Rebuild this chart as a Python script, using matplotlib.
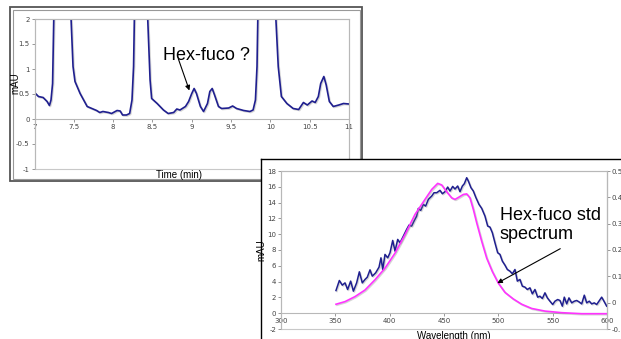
import matplotlib.pyplot as plt
import matplotlib.patheffects as pe
from matplotlib.patches import Rectangle

plt.rcParams['font.family'] = ['Liberation Sans', 'DejaVu Sans']
plt.rcParams['axes.unicode_minus'] = False

# chromatogram, 7-11 min
time_min = [7.0, 7.05, 7.11, 7.16, 7.19, 7.21, 7.23, 7.245, 7.35, 7.465, 7.49, 7.515,
            7.58, 7.67, 7.79, 7.83, 7.87, 7.94, 7.98, 8.05, 8.09, 8.12, 8.17, 8.21,
            8.24, 8.26, 8.27, 8.35, 8.44, 8.47, 8.49, 8.56, 8.64, 8.70, 8.77, 8.81,
            8.85, 8.92, 8.96, 9.0, 9.03, 9.06, 9.11, 9.15, 9.2, 9.23, 9.26, 9.29,
            9.34, 9.38, 9.47, 9.52, 9.57, 9.66, 9.74, 9.78, 9.81, 9.83, 9.84, 9.95,
            10.07, 10.1, 10.14, 10.21, 10.29, 10.36, 10.42, 10.47, 10.53, 10.57,
            10.61, 10.64, 10.68, 10.71, 10.75, 10.8, 10.87, 10.93, 11.0]
mau_chrom = [0.53, 0.45, 0.43, 0.35, 0.27, 0.38, 0.71, 2.0, 12.0, 2.0, 1.05, 0.75,
             0.51, 0.25, 0.17, 0.13, 0.15, 0.13, 0.11, 0.17, 0.16, 0.08, 0.08, 0.11,
             0.38, 1.05, 2.0, 9.0, 2.0, 0.78, 0.41, 0.31, 0.18, 0.11, 0.13, 0.20,
             0.18, 0.25, 0.35, 0.51, 0.61, 0.51, 0.25, 0.15, 0.31, 0.55, 0.61, 0.48,
             0.25, 0.21, 0.22, 0.26, 0.21, 0.17, 0.15, 0.18, 0.38, 1.05, 2.0, 8.0,
             2.0, 1.05, 0.45, 0.31, 0.21, 0.19, 0.33, 0.28, 0.36, 0.33,
             0.45, 0.71, 0.85, 0.68, 0.35, 0.25, 0.28, 0.31, 0.30]

# spectrum of the peak (left axis) and of the standard (right axis)
wl_peak = [350.6, 353.7, 356.4, 358.9, 361.3, 364.1, 366.6, 369.6, 372.1, 374.8,
           377.3, 379.4, 381.9, 384.0, 387.1, 390.2, 392.0, 393.6, 395.7, 398.2,
           400.3, 402.8, 404.9, 407.4, 409.5, 412.6, 415.6, 417.8, 420.2, 422.4,
           424.8, 426.4, 428.5, 431.0, 433.1, 435.6, 438.7, 440.8, 443.3, 446.3,
           448.5, 450.9, 453.4, 455.5, 458.0, 460.1, 462.6, 464.7, 466.9, 468.7,
           470.9, 472.4, 474.8, 477.0, 479.4, 482.2, 484.7, 487.7, 490.2, 492.3,
           494.5, 496.9, 499.4, 501.5, 503.7, 506.1, 508.3, 510.7, 512.9, 515.3,
           517.5, 519.9, 522.1, 524.5, 526.7, 529.1, 531.3, 533.7, 536.2, 538.3,
           540.5, 542.9, 545.1, 547.5, 550.0, 552.1, 554.6, 556.7, 558.9, 560.7,
           562.9, 565.0, 567.5, 569.9, 572.1, 574.2, 576.7, 579.1, 581.3, 583.7,
           585.9, 588.3, 590.5, 592.6, 595.1, 597.2, 599.7]
mau_peak = [2.87, 4.14, 3.55, 3.84, 3.0, 4.06, 2.79, 3.84, 5.24, 3.84,
            4.27, 4.56, 5.49, 4.69, 5.11, 5.83, 7.01, 5.53, 7.44, 7.01,
            7.65, 9.21, 7.86, 9.34, 8.91, 9.76, 10.6, 11.15, 11.03, 11.66,
            12.29, 13.27, 13.01, 13.77, 13.56, 14.41, 14.83, 15.25, 15.25, 15.55,
            15.12, 15.38, 15.97, 15.46, 16.05, 15.72, 16.1, 15.38, 16.1, 16.39,
            17.15, 16.73, 15.89, 15.46, 14.62, 13.77, 13.27, 12.29, 11.03, 10.9,
            10.18, 8.91, 7.65, 7.44, 6.59, 6.08, 5.53, 5.32, 4.99, 5.53,
            4.06, 4.27, 3.42, 3.3, 3.0, 3.21, 2.45, 3.0, 2.03, 2.15,
            1.86, 2.58, 1.94, 1.52, 1.1, 1.52, 1.73, 1.61, 0.89, 2.03,
            1.18, 1.94, 1.31, 1.52, 1.61, 1.44, 1.18, 2.28, 1.31, 1.52,
            1.18, 1.31, 1.1, 1.52, 2.03, 1.52, 0.89]

wl_std = [350.6, 358.9, 368.1, 377.3, 386.5, 395.7, 404.9, 414.1, 423.3, 432.5,
          438.7, 444.2, 447.9, 452.5, 457.1, 460.1, 463.8, 467.8, 470.9, 473.9,
          477.0, 480.1, 484.7, 489.3, 494.5, 500.0, 506.1, 513.8, 521.5, 530.7,
          542.9, 558.3, 576.7, 599.7]
abs_std = [-0.006, 0.004, 0.023, 0.048, 0.087, 0.131, 0.188, 0.258, 0.335, 0.392,
           0.430, 0.453, 0.447, 0.421, 0.398, 0.392, 0.401, 0.411, 0.413, 0.398,
           0.354, 0.303, 0.233, 0.169, 0.118, 0.074, 0.039, 0.014, -0.006, -0.022,
           -0.032, -0.038, -0.042, -0.042]

time_ticks = [7, 7.5, 8, 8.5, 9, 9.5, 10, 10.5, 11]
time_labels = ['7', '7.5', '8', '8.5', '9', '9.5', '10', '10.5', '11']
chrom_yticks = [-1, -0.5, 0, 0.5, 1, 1.5, 2]
chrom_ylabels = ['-1', '-0.5', '0', '0.5', '1', '1.5', '2']
wl_ticks = [300, 350, 400, 450, 500, 550, 600]
spec_yticks = list(range(-2, 19, 2))
std_yticks = [-0.1, 0, 0.1, 0.2, 0.3, 0.4, 0.5]
std_ylabels = ['-0.1', '0', '0.1', '0.2', '0.3', '0.4', '0.5']

W, H = 621, 339
BLUE = '#1f1f8f'
PINK = '#ff33ff'
GRID = '#b8b8b8'
shadow = [pe.SimpleLineShadow(offset=(0.7, -0.7), shadow_color='#888888', alpha=0.35),
          pe.Normal()]

fig = plt.figure(figsize=(W / 100, H / 100), dpi=100)


def box(l, t, r, b):
    return [l / W, 1 - b / H, (r - l) / W, (b - t) / H]


def style_axis(ax):
    for s in ax.spines.values():
        s.set_color(GRID)
        s.set_linewidth(0.8)
    ax.spines['bottom'].set_position(('data', 0))
    ax.add_patch(Rectangle((0, 0), 1, 1, transform=ax.transAxes, fill=False,
                           ec='#c8c8c8', lw=0.8, clip_on=False))
    ax.tick_params(length=2, width=0.6, color='#888888', labelsize=5,
                   labelcolor='#444444', pad=1.5)
    for lab in ax.get_xticklabels() + ax.get_yticklabels():
        lab.set_fontfamily('DejaVu Sans')


# frame of the chromatogram panel
bg = fig.add_axes([0, 0, 1, 1], zorder=0)
bg.set_xlim(0, W)
bg.set_ylim(H, 0)
bg.axis('off')
bg.add_patch(Rectangle((10, 7), 352, 174, fill=False, ec='#555555', lw=1.3))
bg.add_patch(Rectangle((12.5, 9.5), 347, 169, fill=False, ec='#999999', lw=0.8))

# chromatogram
ax1 = fig.add_axes(box(34.5, 19, 349, 169), zorder=1)
ax1.plot(time_min, mau_chrom, color=BLUE, lw=1.2, path_effects=shadow)
ax1.set_xlim(7, 11)
ax1.set_ylim(-1, 2)
ax1.set_xticks(time_ticks)
ax1.set_xticklabels(time_labels)
ax1.set_yticks(chrom_yticks)
ax1.set_yticklabels(chrom_ylabels)
style_axis(ax1)
ax1.set_ylabel('mAU', fontsize=7)
ax1.yaxis.set_label_coords(-0.046, 0.57)
ax1.set_xlabel('Time (min)', fontsize=7)
ax1.xaxis.set_label_coords(0.459, -0.01)
ax1.annotate('', xy=(8.97, 0.57), xytext=(8.83, 1.2),
             arrowprops=dict(arrowstyle='-|>', color='black', lw=0.8,
                             mutation_scale=7, shrinkA=0, shrinkB=0))
ax1.text(8.64, 1.18, 'Hex-fuco ?', fontsize=13, ha='left', va='baseline')

# spectrum panel on top
panel = fig.add_axes(box(261, 159, 640, 360), zorder=2)
panel.set_xticks([])
panel.set_yticks([])
for s in panel.spines.values():
    s.set_color('black')
    s.set_linewidth(1.0)

ax2 = fig.add_axes(box(281, 171, 607, 329), zorder=3)
ax2.plot(wl_peak, mau_peak, color=BLUE, lw=1.1, path_effects=shadow, zorder=3)
ax2.set_xlim(300, 600)
ax2.set_ylim(-2, 18)
ax2.set_xticks(wl_ticks)
ax2.set_yticks(spec_yticks)
style_axis(ax2)
ax2.set_ylabel('mAU', fontsize=7)
ax2.yaxis.set_label_coords(-0.044, 0.5)
ax2.set_xlabel('Wavelength (nm)', fontsize=7)
ax2.xaxis.set_label_coords(0.53, -0.01)

ax2r = ax2.twinx()
ax2r.set_zorder(4)
ax2r.patch.set_visible(False)
ax2r.plot(wl_std, abs_std, color=PINK, lw=1.2, path_effects=shadow)
ax2r.set_ylim(-0.1, 0.5)
ax2r.set_yticks(std_yticks)
ax2r.set_yticklabels(std_ylabels)
for s in ax2r.spines.values():
    s.set_visible(False)
ax2r.spines['right'].set_visible(True)
ax2r.spines['right'].set_color(GRID)
ax2r.tick_params(length=2, width=0.6, color='#888888', labelsize=5,
                 labelcolor='#444444', pad=1.5)
for lab in ax2r.get_yticklabels():
    lab.set_fontfamily('DejaVu Sans')

ax2r.annotate('', xy=(499, 0.074), xytext=(557, 0.205),
              xycoords='data', textcoords='data',
              arrowprops=dict(arrowstyle='-|>', color='black', lw=0.8,
                              mutation_scale=7, shrinkA=0, shrinkB=0))
ax2r.text(501.5, 0.365, 'Hex-fuco std\nspectrum', fontsize=13, ha='left',
          va='top', linespacing=1.2)

fig.savefig('out.png', dpi=100)
